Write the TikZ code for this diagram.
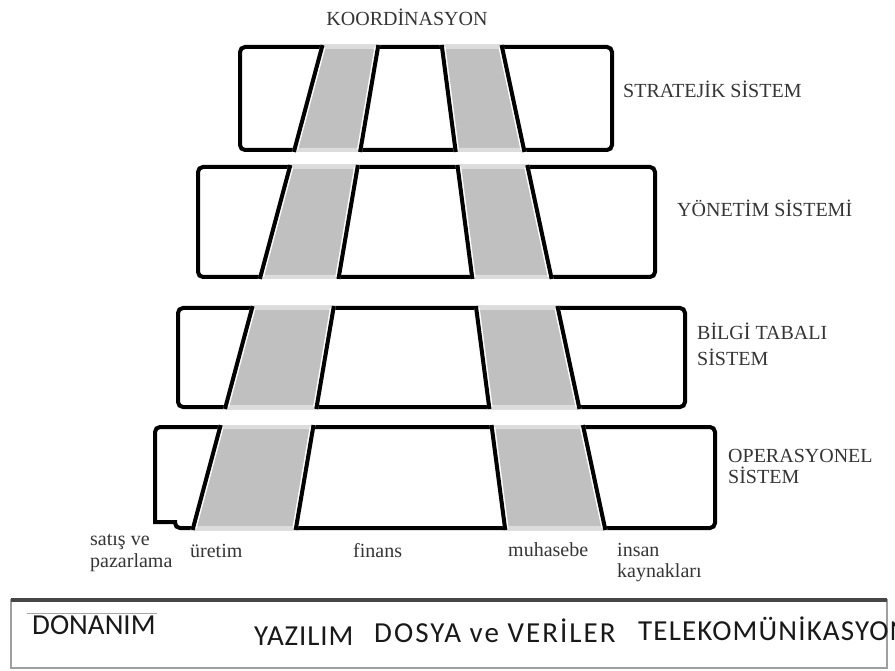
\documentclass[tikz,border=0pt]{standalone}
\usepackage{fontspec}
\setmainfont{Liberation Serif}
\newfontfamily\panelfont{Carlito}

% x positions of the four slanted stripe edges as a function of height y
\newcommand{\edgeA}[1]{322-0.268*(#1-47)}
\newcommand{\edgeB}[1]{378-0.1705*(#1-47)}
\newcommand{\edgeC}[1]{442+0.131*(#1-47)}
\newcommand{\edgeD}[1]{502+0.214*(#1-47)}

\definecolor{stripegray}{HTML}{C0C0C0}
\definecolor{edgegray}{HTML}{DCDCDC}
\definecolor{labelgray}{HTML}{353535}

\tikzset{
  boxline/.style={draw=black, line width=4pt, rounded corners=5pt},
  stripe/.style={fill=stripegray, draw=edgegray, line width=4pt, line join=miter},
  sheen/.style={draw=white, line width=7pt},
  slant/.style={draw=black, line width=4pt, line cap=rect},
  level/.style={font=\fontsize{20}{22}\selectfont, text=labelgray, inner sep=0pt, anchor=base west, align=left},
  unit/.style={font=\fontsize{20}{22}\selectfont, text=labelgray, inner sep=0pt, anchor=base west, align=left},
  infra/.style={font=\panelfont\fontsize{29}{32}\selectfont, text=black!90, inner sep=0pt, anchor=base west},
}

% gray stripes and slanted edges of one layer between heights #1 and #2
\newcommand{\stripes}[2]{%
  \filldraw[stripe] ({\edgeA{#1}},#1) -- ({\edgeB{#1}},#1) -- ({\edgeB{#2}},#2) -- ({\edgeA{#2}},#2) -- cycle;
  \filldraw[stripe] ({\edgeC{#1}},#1) -- ({\edgeD{#1}},#1) -- ({\edgeD{#2}},#2) -- ({\edgeC{#2}},#2) -- cycle;
  \begin{scope}
    \clip ({\edgeA{#1}},#1) -- ({\edgeB{#1}},#1) -- ({\edgeB{#2}},#2) -- ({\edgeA{#2}},#2) -- cycle;
    \draw[sheen] ({\edgeA{#1}},#1) -- ({\edgeA{#2}},#2);
    \draw[sheen] ({\edgeB{#1}},#1) -- ({\edgeB{#2}},#2);
  \end{scope}
  \begin{scope}
    \clip ({\edgeC{#1}},#1) -- ({\edgeD{#1}},#1) -- ({\edgeD{#2}},#2) -- ({\edgeC{#2}},#2) -- cycle;
    \draw[sheen] ({\edgeC{#1}},#1) -- ({\edgeC{#2}},#2);
    \draw[sheen] ({\edgeD{#1}},#1) -- ({\edgeD{#2}},#2);
  \end{scope}
  \draw[slant] ({\edgeA{#1}},#1) -- ({\edgeA{#2}},#2);
  \draw[slant] ({\edgeB{#1}},#1) -- ({\edgeB{#2}},#2);
  \draw[slant] ({\edgeC{#1}},#1) -- ({\edgeC{#2}},#2);
  \draw[slant] ({\edgeD{#1}},#1) -- ({\edgeD{#2}},#2);
}

\begin{document}
\begin{tikzpicture}[x=1pt, y=-1pt]
\useasboundingbox[fill=white] (0,0) rectangle (895,671);

% strategic layer
\draw[boxline] (240,47) rectangle (612,150);
\stripes{47}{150}
% management layer
\draw[boxline] (198,167) rectangle (655,277);
\stripes{167}{277}
% knowledge layer
\draw[boxline] (178,308) rectangle (685,407);
\stripes{308}{407}
% operational layer, with the small step at its lower left corner
\draw[boxline] (175,528) [sharp corners] -- (175,522) -- (155,522) [rounded corners=5pt] -- (155,427) -- (715,427) -- (715,528) -- cycle;
\stripes{427}{528}

% titles
\node[level, anchor=base] (coord) at (407,26) {KOORDİNASYON};
\node[level] (strat) at (623,98) {STRATEJİK SİSTEM};
\node[level] (mgmt) at (677,217) {YÖNETİM SİSTEMİ};
\node[level] (know) at (697,365) {BİLGİ TABALI\\[3pt]SİSTEM};
\node[level] (oper) at (728,483) {OPERASYONEL\\[-1pt]SİSTEM};

% functional units
\node[unit] (sales) at (90,567) {satış ve\\pazarlama};
\node[unit] (prod) at (190,557) {üretim};
\node[unit] (fin) at (353,557) {finans};
\node[unit] (acc) at (508,556) {muhasebe};
\node[unit] (hr) at (617,577) {insan\\[-1pt]kaynakları};

% infrastructure panel
\draw[gray!75, line width=1.2pt] (11,600) rectangle (887,668);
\draw[gray!55!black, line width=4pt] (11,600) -- (887,600);
\draw[gray!70, line width=1pt] (27,613) -- (157,613);
\node[infra] (hw) at (32,634) {DONANIM};
\node[infra] (sw) at (254,645) {\addfontfeature{LetterSpace=3}YAZILIM};
\node[infra] (data) at (374,642) {\addfontfeature{LetterSpace=7}DOSYA ve VERİLER};
\node[infra] (tel) at (638,640) {\addfontfeature{LetterSpace=4}TELEKOMÜNİKASYON};
\end{tikzpicture}
\end{document}
